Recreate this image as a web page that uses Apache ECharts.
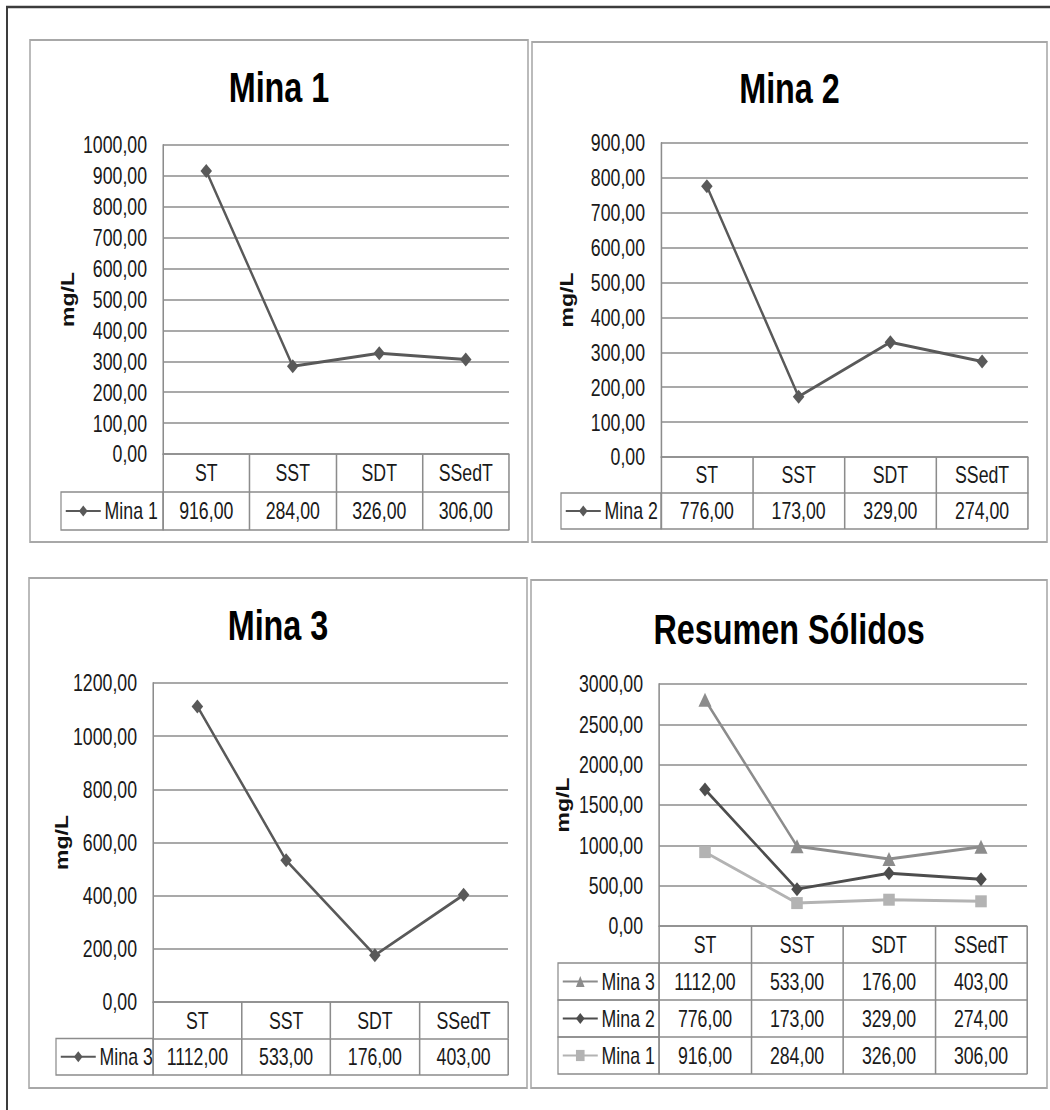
<!DOCTYPE html>
<html>
<head>
<meta charset="utf-8">
<script src="https://cdn.jsdelivr.net/npm/echarts@6/dist/echarts.min.js"></script>
<style>
  html, body { margin: 0; padding: 0; background: #ffffff; overflow: hidden; }
  #page { width: 1050px; height: 1110px; overflow: hidden; position: relative; }
  /* the chart is laid out wide and drawn horizontally condensed, giving narrow lettering */
  #chart { position: absolute; left: 0; top: 0; height: 1110px; transform-origin: 0 0; }
</style>
</head>
<body>
<div id="page"><div id="chart"></div></div>
<script>
// Solids per mine, mg/L
const categories = ['ST', 'SST', 'SDT', 'SSedT'];
const mina1 = [916, 284, 326, 306];
const mina2 = [776, 173, 329, 274];
const mina3 = [1112, 533, 176, 403];
const panelTitles = ['Mina 1', 'Mina 2', 'Mina 3', 'Resumen Sólidos'];
const seriesNames = ['Mina 1', 'Mina 2', 'Mina 3'];
const unitLabel = 'mg/L';

// horizontal condensing factor
const S = 0.77;
const PAGE_W = 1050;
const sx = x => x / S;

const FONT = '"Liberation Sans", Arial, Helvetica, sans-serif';
const TEXT = '#1a1a1a';
const RULE = '#8c8c8c';
const FS = 23;

const fmt = v => v.toFixed(2).replace('.', ',');

// Panel layout in page pixels: frame [x, y, w, h], plot [left, top, width, height],
// table row height, key column left edge, title text centre line, axis-name centre x, axis range.
const layout = [
  { frame: [30, 40, 498, 502],  plot: [163, 145, 346, 309], rowH: 38,   keyLeft: 61,  titleMid: 87,  nameX: 68,  yMax: 1000, yStep: 100 },
  { frame: [532, 42, 515, 500], plot: [661, 143, 367, 314], rowH: 36,   keyLeft: 561, titleMid: 88,  nameX: 567, yMax: 900,  yStep: 100 },
  { frame: [29, 578, 498, 510], plot: [153, 683, 355, 319], rowH: 36.5, keyLeft: 56,  titleMid: 625, nameX: 62,  yMax: 1200, yStep: 200 },
  { frame: [531, 580, 516, 508], plot: [659, 684, 368, 242], rowH: 37,  keyLeft: 558, titleMid: 629, nameX: 563, yMax: 3000, yStep: 500 }
];

const diamond = { symbol: 'diamond', size: [15, 14] };

// Table rows of each panel, top to bottom
const panelRows = [
  [{ name: seriesNames[0], data: mina1, color: '#595959', ...diamond }],
  [{ name: seriesNames[1], data: mina2, color: '#595959', ...diamond }],
  [{ name: seriesNames[2], data: mina3, color: '#595959', ...diamond }],
  [
    { name: seriesNames[2], data: mina3, color: '#8c8c8c', symbol: 'triangle', size: [17, 14] },
    { name: seriesNames[1], data: mina2, color: '#4d4d4d', ...diamond },
    { name: seriesNames[0], data: mina1, color: '#b3b3b3', symbol: 'rect', size: [15, 12] }
  ]
];
const stackedPanel = 3;

const option = {
  animation: false,
  backgroundColor: '#ffffff',
  title: [], grid: [], xAxis: [], yAxis: [], legend: [], series: [],
  graphic: []
};

// Outer frame (top and left edges)
option.graphic.push({
  type: 'polyline', silent: true,
  shape: { points: [[sx(7), 1110], [sx(7), 7], [sx(PAGE_W), 7]] },
  style: { stroke: '#3c3c3c', lineWidth: 2.6, fill: 'none' }
});

layout.forEach((L, p) => {
  const rows = panelRows[p];
  const [px, py, pw, ph] = L.plot;
  const zeroY = py + ph;

  option.graphic.push({
    type: 'rect', silent: true,
    shape: { x: sx(L.frame[0]), y: L.frame[1], width: sx(L.frame[2]), height: L.frame[3] },
    style: { fill: 'none', stroke: '#a8a8a8', lineWidth: 2 }
  });

  option.title.push({
    text: panelTitles[p],
    left: sx(L.frame[0] + L.frame[2] / 2),
    textAlign: 'center',
    top: L.titleMid - 21,
    padding: 0,
    textStyle: { fontFamily: FONT, fontWeight: 'bold', fontSize: 42, color: '#000000' }
  });

  option.grid.push({ left: sx(px), top: py, width: sx(pw), height: ph, containLabel: false });

  option.yAxis.push({
    gridIndex: p, type: 'value', min: 0, max: L.yMax, interval: L.yStep,
    axisLine: { show: true, lineStyle: { color: RULE, width: 2 } },
    axisTick: { show: false },
    splitLine: { show: true, lineStyle: { color: RULE, width: 1.5 } },
    axisLabel: { formatter: fmt, margin: sx(16), fontFamily: FONT, fontSize: FS, color: TEXT },
    name: unitLabel, nameLocation: 'middle', nameRotate: 90,
    nameGap: sx(px - L.nameX - 8),
    nameMoveOverlap: false,
    nameTextStyle: { fontFamily: FONT, fontWeight: 'bold', fontSize: 23, color: '#111111' }
  });

  const headerAxis = option.xAxis.length;
  const baseAxis = {
    gridIndex: p, type: 'category', data: categories, position: 'bottom', boundaryGap: true,
    axisLine: { show: true, onZero: false, lineStyle: { color: RULE, width: 1.5 } },
    axisTick: { show: true, interval: 0, alignWithLabel: false, length: L.rowH, lineStyle: { color: RULE, width: 2 } },
    splitLine: { show: false },
    axisLabel: { interval: 0, margin: (L.rowH - FS) / 2, fontFamily: FONT, fontSize: FS, color: TEXT }
  };
  // header row: category names
  option.xAxis.push({ ...baseAxis, offset: 0 });
  // one row of values per series
  rows.forEach((row, k) => {
    option.xAxis.push({
      ...baseAxis,
      offset: L.rowH * (k + 1),
      axisLabel: { ...baseAxis.axisLabel, formatter: (val, idx) => fmt(row.data[idx]) }
    });
    const rowTop = zeroY + L.rowH * (k + 1);
    // key cell to the left of the value cells
    option.graphic.push({
      type: 'rect', silent: true,
      shape: { x: sx(L.keyLeft), y: rowTop, width: sx(px - L.keyLeft), height: L.rowH },
      style: { fill: 'none', stroke: RULE, lineWidth: 1.6 }
    });
    const seriesName = p === stackedPanel ? 'Resumen: ' + row.name : row.name;
    option.legend.push({
      data: [seriesName],
      left: sx(L.keyLeft + 4),
      top: rowTop + (L.rowH - FS) / 2,
      padding: 0, itemGap: 0, itemWidth: sx(35), itemHeight: 14,
      selectedMode: false,
      formatter: name => name.replace('Resumen: ', ''),
      textStyle: { fontFamily: FONT, fontSize: FS, color: TEXT }
    });
  });
  // closing line under the last row
  option.xAxis.push({
    ...baseAxis,
    offset: L.rowH * (rows.length + 1),
    axisTick: { show: false },
    axisLabel: { show: false }
  });

  // lines: stacked panel draws bottom series first
  const drawOrder = p === stackedPanel ? rows.slice().reverse() : rows;
  drawOrder.forEach((row, i) => {
    option.series.push({
      type: 'line',
      name: p === stackedPanel ? 'Resumen: ' + row.name : row.name,
      xAxisIndex: headerAxis, yAxisIndex: p,
      data: row.data,
      stack: p === stackedPanel ? 'total' : undefined,
      symbol: row.symbol, symbolSize: row.size, showSymbol: true,
      lineStyle: { color: row.color, width: 3 },
      itemStyle: { color: row.color },
      z: 3 + i
    });
  });
});

const el = document.getElementById('chart');
el.style.width = Math.ceil(sx(PAGE_W)) + 'px';
el.style.transform = 'scaleX(' + S + ')';
const chart = echarts.init(el, null, { renderer: 'svg' });
chart.setOption(option);
</script>
</body>
</html>
